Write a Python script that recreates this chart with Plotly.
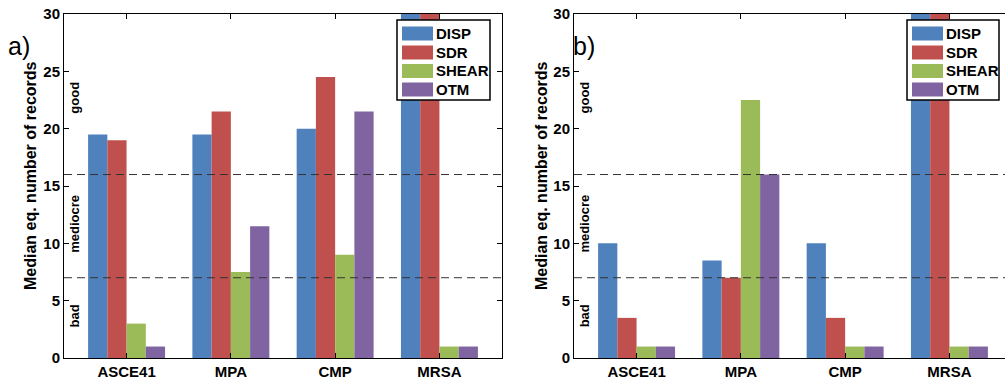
import plotly.graph_objects as go

categories = ["ASCE41", "MPA", "CMP", "MRSA"]
series_names = ["DISP", "SDR", "SHEAR", "OTM"]
colors = ["#4F81BD", "#C0504D", "#9BBB59", "#8064A2"]

# panel a)
a_disp = [19.5, 19.5, 20.0, 34.0]
a_sdr = [19.0, 21.5, 24.5, 34.0]
a_shear = [3.0, 7.5, 9.0, 1.0]
a_otm = [1.0, 11.5, 21.5, 1.0]

# panel b)
b_disp = [10.0, 8.5, 10.0, 34.0]
b_sdr = [3.5, 7.0, 3.5, 34.0]
b_shear = [1.0, 22.5, 1.0, 1.0]
b_otm = [1.0, 16.0, 1.0, 1.0]

thresholds = [16, 7]
zone_labels = ["good", "mediocre", "bad"]
zone_label_y = [22.7, 11.7, 3.7]
y_title = "Median eq. number of records"
y_ticks = [0, 5, 10, 15, 20, 25, 30]

W, H = 1005, 384
L1, R1 = 64, 502
L2 = 574
TOP, BOT = 14, 358
px_per_cat = (R1 - L1) / 4.2

fig = go.Figure()
FONT = "Liberation Sans, Arial, sans-serif"


def px_x(p):
    return p / W


def px_y(p):
    return (BOT - p) / (BOT - TOP)


panels = [
    ("x", "y", [a_disp, a_sdr, a_shear, a_otm]),
    ("x2", "y2", [b_disp, b_sdr, b_shear, b_otm]),
]
for xa, ya, data in panels:
    for name, col, vals in zip(series_names, colors, data):
        fig.add_trace(go.Bar(
            x=categories, y=vals, name=name, marker_color=col,
            marker_line_width=0, xaxis=xa, yaxis=ya, showlegend=False,
        ))

axis_common = dict(showline=True, linecolor="black", linewidth=1,
                   ticks="inside", ticklen=5, tickcolor="black",
                   tickfont=dict(family=FONT, size=15, color="black", weight="bold"),
                   showgrid=False, zeroline=False)

x2_max = -0.6 + (W - L2) / px_per_cat
fig.update_layout(
    width=W, height=H,
    margin=dict(l=0, r=0, t=TOP, b=H - BOT),
    plot_bgcolor="white", paper_bgcolor="white",
    barmode="group", bargap=0.262, bargroupgap=0,
    font=dict(family=FONT, color="black"),
    xaxis=dict(domain=[L1 / W, R1 / W], range=[-0.6, 3.6], mirror="ticks", **axis_common),
    yaxis=dict(domain=[0, 1], range=[0, 30], tickvals=y_ticks, mirror="ticks", **axis_common),
    xaxis2=dict(domain=[L2 / W, 1.0], range=[-0.6, x2_max], mirror="ticks", anchor="y2", **axis_common),
    yaxis2=dict(domain=[0, 1], range=[0, 30], tickvals=y_ticks, mirror=False, anchor="x2", **axis_common),
)

# threshold dashed lines
for xref, yref in [("x domain", "y"), ("x2 domain", "y2")]:
    for t in thresholds:
        fig.add_shape(type="line", xref=xref, yref=yref, x0=0, x1=1, y0=t, y1=t,
                      line=dict(color="#333333", width=1, dash="8px,5px"))

# legends (box, swatches, labels)
row_centers = [33.5, 52.5, 71, 89.5]
for box_l, box_r in [(397, 490), (907, 999)]:
    fig.add_shape(type="rect", xref="paper", yref="paper",
                  x0=px_x(box_l), x1=px_x(box_r), y0=px_y(20), y1=px_y(100),
                  line=dict(color="black", width=1.5), fillcolor="white", layer="above")
    for name, col, cy in zip(series_names, colors, row_centers):
        fig.add_shape(type="rect", xref="paper", yref="paper",
                      x0=px_x(box_l + 5), x1=px_x(box_l + 36),
                      y0=px_y(cy - 7), y1=px_y(cy + 7),
                      line=dict(width=0), fillcolor=col, layer="above")
        fig.add_annotation(text=name, xref="paper", yref="paper",
                           x=px_x(box_l + 37), xanchor="left", y=px_y(cy), yanchor="middle",
                           showarrow=False,
                           font=dict(family=FONT, size=15, color="black", weight="bold"))

# zone labels
for xref, yref in [("x domain", "y"), ("x2 domain", "y2")]:
    for lab, yy in zip(zone_labels, zone_label_y):
        fig.add_annotation(text=lab, xref=xref, yref=yref, x=0.025, xanchor="center",
                           y=yy, yanchor="middle",
                           showarrow=False, textangle=-90,
                           font=dict(family=FONT, size=13, color="black", weight="bold"))

# y titles
for xpx in [31, 542]:
    fig.add_annotation(text=y_title, xref="paper", yref="paper", x=px_x(xpx), xanchor="center",
                       y=px_y(176), yanchor="middle",
                       showarrow=False, textangle=-90,
                       font=dict(family=FONT, size=16, color="black", weight="bold"))

# panel letters
for lab, xpx in [("a)", 6), ("b)", 571)]:
    fig.add_annotation(text=lab, xref="paper", yref="paper", x=px_x(xpx), xanchor="left",
                       y=px_y(46), yanchor="middle", showarrow=False,
                       font=dict(family=FONT, size=25, color="black"))

fig.write_html("out.html", config={"displayModeBar": False},
               post_script="document.body.style.margin='0px';document.body.style.overflow='hidden';")
